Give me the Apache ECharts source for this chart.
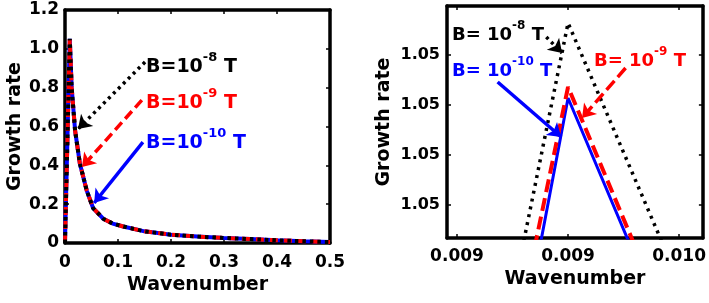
<!DOCTYPE html>
<html>
<head>
<meta charset="utf-8">
<script src="https://cdn.jsdelivr.net/npm/echarts@6/dist/echarts.min.js"></script>
<style>
  html, body { margin: 0; padding: 0; background: #fff; }
  #chart { width: 709px; height: 303px; }
</style>
</head>
<body>
<div id="chart"></div>
<script>
// full range panel
var fullK = [0, 0.009, 0.0126, 0.019, 0.028, 0.041, 0.053, 0.072, 0.09, 0.11, 0.15, 0.2, 0.25, 0.3, 0.35, 0.4, 0.45, 0.5];
var fullGrowth = [0, 1.052, 0.80, 0.58, 0.41, 0.27, 0.18, 0.125, 0.10, 0.085, 0.06, 0.043, 0.033, 0.026, 0.02, 0.014, 0.009, 0.005];
var fullXTicks = [0, 0.1, 0.2, 0.3, 0.4, 0.5];
var fullXLabels = ["0", "0.1", "0.2", "0.3", "0.4", "0.5"];
var fullYTicks = [0, 0.2, 0.4, 0.6, 0.8, 1.0, 1.2];
var fullYLabels = ["0", "0.2", "0.4", "0.6", "0.8", "1.0", "1.2"];

// zoom on the peak
var zoomK = [0.0085, 0.009, 0.0095];
var zoomB8 = [1.05087, 1.051964, 1.051446];
var zoomB9 = [1.05077, 1.051836, 1.051308];
var zoomB10 = [1.050642, 1.051814, 1.051288];
var zoomXTicks = [0.0085, 0.009, 0.0095];
var zoomXLabels = ["0.009", "0.009", "0.010"];
var zoomYTicks = [1.0516, 1.0517, 1.0518, 1.0519];
var zoomYLabels = ["1.05", "1.05", "1.05", "1.05"];

// arrows [from, to] in data units
var fullArrows = {
    b8: [[0.151, 0.932], [0.0245, 0.587]],
    b9: [[0.145, 0.736], [0.032, 0.391]],
    b10: [[0.147, 0.52], [0.055, 0.206]]
};
var zoomArrows = {
    b8: [[0.008902, 1.051936], [0.008973, 1.051904]],
    b9: [[0.009259, 1.051874], [0.009063, 1.051774]],
    b10: [[0.008683, 1.051846], [0.008969, 1.051736]]
};

var FONT = "DejaVu Sans";
var BLUE = "#0000ff", RED = "#ff0000", BLACK = "#000000";

function pairs(xs, ys) {
    return xs.map(function (x, i) { return [x, ys[i]]; });
}
function lookup(ticks, labels) {
    return function (v) {
        for (var i = 0; i < ticks.length; i++) {
            if (Math.abs(ticks[i] - v) < 1e-9) return labels[i];
        }
        return "";
    };
}
function arrow(seg, color, type) {
    return {
        silent: true,
        animation: false,
        symbol: ["none", "arrow"],
        symbolSize: 13,
        label: { show: false },
        lineStyle: { color: color, width: 3.5, type: type },
        data: [[{ coord: seg[0] }, { coord: seg[1] }]]
    };
}
function frameAxis(kind, grid, pos, min, max, ticks, fmt, size, margin, name, gap) {
    return {
        type: "value",
        gridIndex: grid,
        position: pos,
        min: min,
        max: max,
        name: name || "",
        nameLocation: "middle",
        nameGap: gap || 0,
        nameTextStyle: { fontFamily: FONT, fontWeight: "bold", fontSize: 19, color: "#000" },
        splitLine: { show: false },
        axisLine: { show: true, onZero: false, lineStyle: { color: "#000", width: 3.5 } },
        axisTick: { show: true, inside: true, length: 4, customValues: ticks, lineStyle: { color: "#000", width: 1.5 } },
        axisLabel: {
            show: !!fmt,
            customValues: ticks,
            formatter: fmt,
            fontFamily: FONT,
            fontWeight: "bold",
            fontSize: size,
            color: "#000",
            margin: margin,
            showMinLabel: true,
            showMaxLabel: true
        }
    };
}
function supText(x, y, main, sup, tail, color, size) {
    return {
        type: "text",
        x: x,
        y: y,
        z: 100,
        style: {
            text: "{b|" + main + "}{s|" + sup + "}{b|" + tail + "}",
            verticalAlign: "middle",
            align: "left",
            rich: {
                b: { fontFamily: FONT, fontWeight: "bold", fontSize: size, fill: color, lineHeight: size + 6, verticalAlign: "bottom" },
                s: { fontFamily: FONT, fontWeight: "bold", fontSize: size - 6, fill: color, lineHeight: size + 6, verticalAlign: "top" }
            }
        }
    };
}

var chart = echarts.init(document.getElementById("chart"));
var option = {
    animation: false,
    backgroundColor: "#fff",
    grid: [
        { left: 65, top: 10, width: 265, height: 233, containLabel: false },
        { left: 447, top: 6, width: 258, height: 232, containLabel: false }
    ],
    xAxis: [
        frameAxis("x", 0, "bottom", 0, 0.5, fullXTicks, lookup(fullXTicks, fullXLabels), 17, 11, "Wavenumber", 31),
        frameAxis("x", 0, "top", 0, 0.5, fullXTicks, null, 17, 0),
        frameAxis("x", 1, "bottom", 0.008455, 0.009607, zoomXTicks, lookup(zoomXTicks, zoomXLabels), 17, 10, "Wavenumber", 29),
        frameAxis("x", 1, "top", 0.008455, 0.009607, zoomXTicks, null, 17, 0)
    ],
    yAxis: [
        frameAxis("y", 0, "left", 0, 1.2, fullYTicks, lookup(fullYTicks, fullYLabels), 17, 6, "Growth rate", 40),
        frameAxis("y", 0, "right", 0, 1.2, fullYTicks, null, 17, 0),
        frameAxis("y", 1, "left", 1.051534, 1.051998, zoomYTicks, lookup(zoomYTicks, zoomYLabels), 16, 7, "Growth rate", 53),
        frameAxis("y", 1, "right", 1.051534, 1.051998, zoomYTicks, null, 16, 0)
    ],
    series: [
        {
            name: "B=1e-10 T", type: "line", xAxisIndex: 0, yAxisIndex: 0, showSymbol: false,
            data: pairs(fullK, fullGrowth),
            lineStyle: { color: BLUE, width: 4, type: "solid" },
            markLine: arrow(fullArrows.b10, BLUE, "solid")
        },
        {
            name: "B=1e-9 T", type: "line", xAxisIndex: 0, yAxisIndex: 0, showSymbol: false,
            data: pairs(fullK, fullGrowth),
            lineStyle: { color: RED, width: 4, type: [8, 6] },
            markLine: arrow(fullArrows.b9, RED, [10, 5])
        },
        {
            name: "B=1e-8 T", type: "line", xAxisIndex: 0, yAxisIndex: 0, showSymbol: false,
            data: pairs(fullK, fullGrowth),
            lineStyle: { color: BLACK, width: 4, type: [3.5, 4] },
            markLine: arrow(fullArrows.b8, BLACK, [3, 4])
        },
        {
            name: "B=1e-10 T zoom", type: "line", xAxisIndex: 2, yAxisIndex: 2, showSymbol: false,
            data: pairs(zoomK, zoomB10),
            lineStyle: { color: BLUE, width: 3, type: "solid" },
            markLine: arrow(zoomArrows.b10, BLUE, "solid")
        },
        {
            name: "B=1e-9 T zoom", type: "line", xAxisIndex: 2, yAxisIndex: 2, showSymbol: false,
            data: pairs(zoomK, zoomB9),
            lineStyle: { color: RED, width: 4, type: [13, 6] },
            markLine: arrow(zoomArrows.b9, RED, [12, 5])
        },
        {
            name: "B=1e-8 T zoom", type: "line", xAxisIndex: 2, yAxisIndex: 2, showSymbol: false,
            data: pairs(zoomK, zoomB8),
            lineStyle: { color: BLACK, width: 3.5, type: [3, 5] },
            markLine: arrow(zoomArrows.b8, BLACK, [3, 4])
        }
    ],
    graphic: [
        supText(146, 64, "B=10", "-8", " T", BLACK, 19),
        supText(146, 100, "B=10", "-9", " T", RED, 19),
        supText(146, 140, "B=10", "-10", " T", BLUE, 19),
        supText(452, 32, "B= 10", "-8", " T", BLACK, 18),
        supText(452, 68, "B= 10", "-10", " T", BLUE, 18),
        supText(594, 58, "B= 10", "-9", " T", RED, 18)
    ]
};
chart.setOption(option);
window.addEventListener("resize", chart.resize);
</script>
</body>
</html>
